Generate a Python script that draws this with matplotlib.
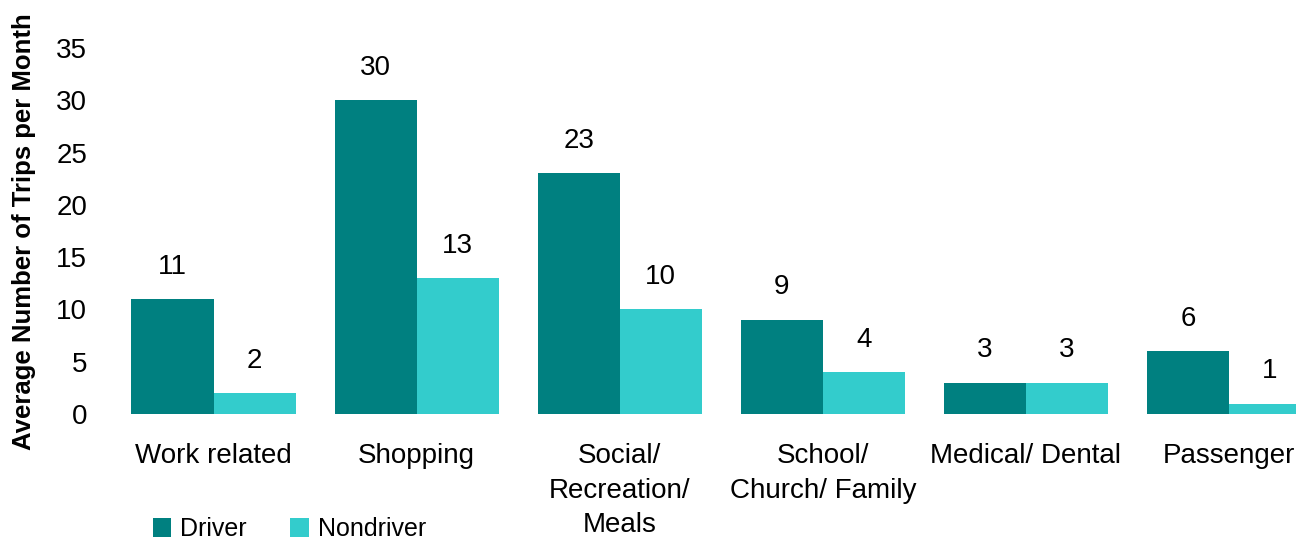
import numpy as np
import matplotlib.pyplot as plt

plt.rcParams['font.family'] = ['Liberation Sans', 'DejaVu Sans']

categories = ["Work related", "Shopping", "Social/\nRecreation/\nMeals",
              "School/\nChurch/ Family", "Medical/ Dental", "Passenger"]
driver = [11, 30, 23, 9, 3, 6]
nondriver = [2, 13, 10, 4, 3, 1]

DRIVER_COLOR = '#008080'
NONDRIVER_COLOR = '#33CCCC'
W = 0.404

fig = plt.figure(figsize=(12.96, 5.42), dpi=100)
ax = fig.add_axes([112/1296, 1 - 414/542, (1296-112)/1296, (414-48)/542])

x = np.arange(len(categories))
b1 = ax.bar(x - W/2, driver, W, color=DRIVER_COLOR, label='Driver')
b2 = ax.bar(x + W/2, nondriver, W, color=NONDRIVER_COLOR, label='Nondriver')

for bars, vals in ((b1, driver), (b2, nondriver)):
    for bar, v in zip(bars, vals):
        ax.annotate(f"{v}", (bar.get_x() + bar.get_width()/2, v),
                    xytext=(0, 14), textcoords='offset points',
                    ha='center', va='bottom', fontsize=20)

ax.set_xlim(-0.5, (1296-214)/203)
ax.set_ylim(0, 35)
ax.set_yticks(range(0, 36, 5))
ax.set_xticks(x)
ax.set_xticklabels(categories, fontsize=20, linespacing=1.42)
ax.tick_params(axis='y', length=0, pad=18, labelsize=20)
ax.tick_params(axis='x', length=0, pad=21)
for s in ax.spines.values():
    s.set_visible(False)

ax.set_ylabel("Average Number of Trips per Month", fontsize=18.5,
              fontweight='bold')
ax.yaxis.set_label_coords(-76/1184, 0.497)

fig.legend(handles=[b1, b2], loc='lower left', bbox_to_anchor=(130/1296, -0.04),
           ncol=2, frameon=False, fontsize=18, handlelength=0.75,
           handleheight=0.75, handletextpad=0.35, columnspacing=1.75)

fig.savefig("out.png", dpi=100)
